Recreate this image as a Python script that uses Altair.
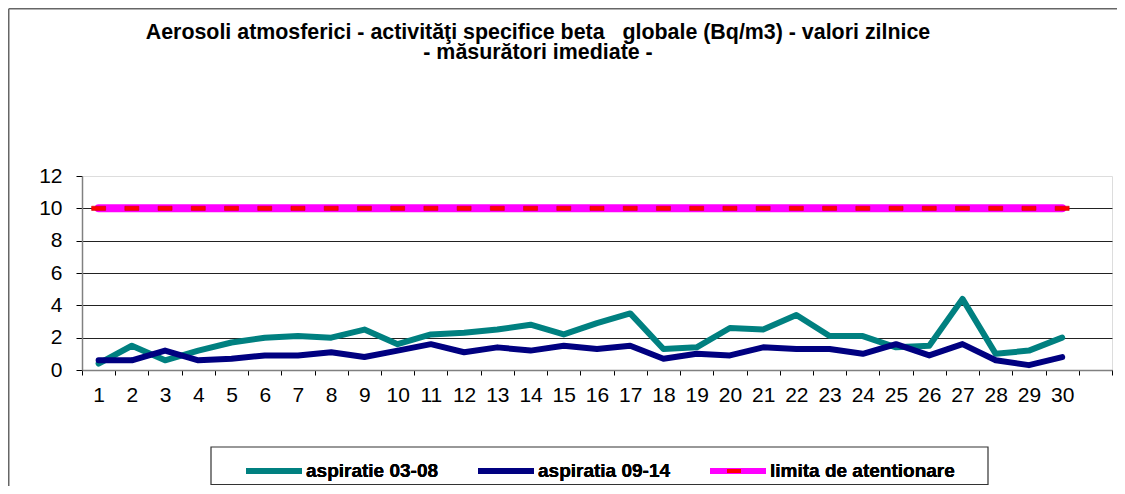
import altair as alt
import pandas as pd

# ---- data ----
days = list(range(1, 31))
asp_0308 = [0.4, 1.5, 0.6, 1.2, 1.7, 2.0, 2.1, 2.0, 2.5, 1.6,
            2.2, 2.3, 2.5, 2.8, 2.2, 2.9, 3.5, 1.3, 1.4, 2.6,
            2.5, 3.4, 2.1, 2.1, 1.4, 1.5, 4.4, 1.0, 1.2, 2.0]
asp_0914 = [0.6, 0.6, 1.2, 0.6, 0.7, 0.9, 0.9, 1.1, 0.8, 1.2,
            1.6, 1.1, 1.4, 1.2, 1.5, 1.3, 1.5, 0.7, 1.0, 0.9,
            1.4, 1.3, 1.3, 1.0, 1.6, 0.9, 1.6, 0.6, 0.3, 0.8]
limita = [10, 10, 10, 10, 10, 10, 10, 10, 10, 10,
          10, 10, 10, 10, 10, 10, 10, 10, 10, 10,
          10, 10, 10, 10, 10, 10, 10, 10, 10, 10]
series_names = ["aspiratie 03-08", "aspiratia 09-14", "limita de atentionare"]
series_colors = ["#008080", "#000080", "#FF00FF"]
y_ticks = [0, 2, 4, 6, 8, 10, 12]
x_ticks = [v / 2 for v in range(1, 64)]  # band edges and centres 0.5 .. 31.5
title_lines = ["Aerosoli atmosferici - activităţi specifice beta\u00a0\u00a0 globale (Bq/m3) - valori zilnice",
               "- măsurători imediate -"]

rows = []
for name, vals in zip(series_names, [asp_0308, asp_0914, limita]):
    for d, v in zip(days, vals):
        rows.append({"day": d, "value": v, "series": name})
df = pd.DataFrame(rows)

FONT = "Liberation Sans"
W, H = 1030, 194
MARKER = "M-1,-0.3H1V0.3H-1Z"

x_enc = alt.X(
    "day:Q",
    scale=alt.Scale(domain=[0.5, 31.5], nice=False, zero=False),
    axis=alt.Axis(
        values=x_ticks,
        labelExpr="datum.value % 1 == 0 && datum.value <= 30 ? '' + datum.value : ''",
        tickOpacity={"condition": {"test": "datum.value % 1 == 0", "value": 0}, "value": 1},
        labelOverlap=False, labelFlush=False, grid=False,
        tickSize=5, tickColor="#000000", tickWidth=1,
        domainColor="#808080", domainWidth=1.5,
        labelFontSize=21, labelFont=FONT, labelColor="#000000", labelPadding=9,
        title=None,
    ),
)
y_enc = alt.Y(
    "value:Q",
    scale=alt.Scale(domain=[0, 12], nice=False, zero=True),
    axis=alt.Axis(
        values=y_ticks, grid=True,
        gridOpacity={"condition": {"test": "datum.value >= 12", "value": 0}, "value": 1},
        gridColor="#222222", gridWidth=1,
        tickSize=6, tickColor="#000000", tickWidth=1,
        domainColor="#808080", domainWidth=1.5,
        labelFontSize=21, labelFont=FONT, labelColor="#000000", labelPadding=14,
        title=None,
    ),
)
legend = alt.Legend(
    title=None, orient="none", legendX=161, legendY=284, direction="horizontal",
    symbolType="stroke", symbolSize=3136, symbolStrokeWidth=6, clipHeight=22,
    labelFont=FONT, labelFontSize=19, labelFontWeight="bold", labelColor="#000000",
    labelOffset=1, columnPadding=36, padding=0, labelLimit=400, zindex=1,
)
color_enc = alt.Color("series:N", scale=alt.Scale(domain=series_names, range=series_colors), legend=legend)

marker_legend = alt.Legend(
    title=None, orient="none", legendX=644.5, legendY=284, clipHeight=22,
    labelExpr="''", symbolSize=196, symbolFillColor="#FF0000", symbolStrokeColor="#D00000",
    symbolStrokeWidth=0.6, padding=0, labelOffset=0, zindex=3,
)

base = alt.Chart(df)

limit_line = base.transform_filter(alt.datum.series == series_names[2]).mark_line(
    strokeWidth=8, strokeCap="round", strokeJoin="round"
).encode(x=x_enc, y=y_enc, color=color_enc)

limit_marks = base.transform_filter(alt.datum.series == series_names[2]).transform_calculate(
    mk="'m'"
).mark_point(
    size=196, filled=True, fill="#FF0000", stroke="#D00000", strokeWidth=0.6, opacity=1
).encode(
    x=x_enc, y=y_enc,
    shape=alt.Shape("mk:N", scale=alt.Scale(domain=["m"], range=[MARKER]), legend=marker_legend),
)

teal_line = base.transform_filter(alt.datum.series == series_names[0]).mark_line(
    strokeWidth=6, strokeCap="round", strokeJoin="round"
).encode(x=x_enc, y=y_enc, color=color_enc)

navy_line = base.transform_filter(alt.datum.series == series_names[1]).mark_line(
    strokeWidth=6, strokeCap="round", strokeJoin="round"
).encode(x=x_enc, y=y_enc, color=color_enc)

one = pd.DataFrame({"k": [0]})
frame_top = alt.Chart(one).mark_rule(stroke="#666666", strokeWidth=1.5).encode(
    x=alt.value(-73.25), x2=alt.value(1200), y=alt.value(-167.25)
)
frame_left = alt.Chart(one).mark_rule(stroke="#666666", strokeWidth=1.5).encode(
    x=alt.value(-73.25), y=alt.value(-167.25), y2=alt.value(600)
)
legend_box = alt.Chart(one).mark_rect(fillOpacity=0, stroke="#333333", strokeWidth=1.2).encode(
    x=alt.value(129), x2=alt.value(906), y=alt.value(271), y2=alt.value(308.5)
)

chart = alt.layer(
    frame_top, frame_left, legend_box, limit_line, limit_marks, teal_line, navy_line
).properties(
    width=W, height=H,
    title=alt.TitleParams(
        text=title_lines, font=FONT, fontSize=21.4, fontWeight="bold", color="#000000",
        anchor="middle", frame="group", dx=-59, dy=55, offset=0, lineHeight=20,
    ),
    autosize=alt.AutoSizeParams(type="none"),
    padding={"left": 74, "top": 168, "right": 5, "bottom": 116},
).resolve_legend(color="independent", shape="independent").configure_view(stroke=None).configure(background="white")

chart.save("out.html", embed_options={"renderer": "svg", "actions": False})
